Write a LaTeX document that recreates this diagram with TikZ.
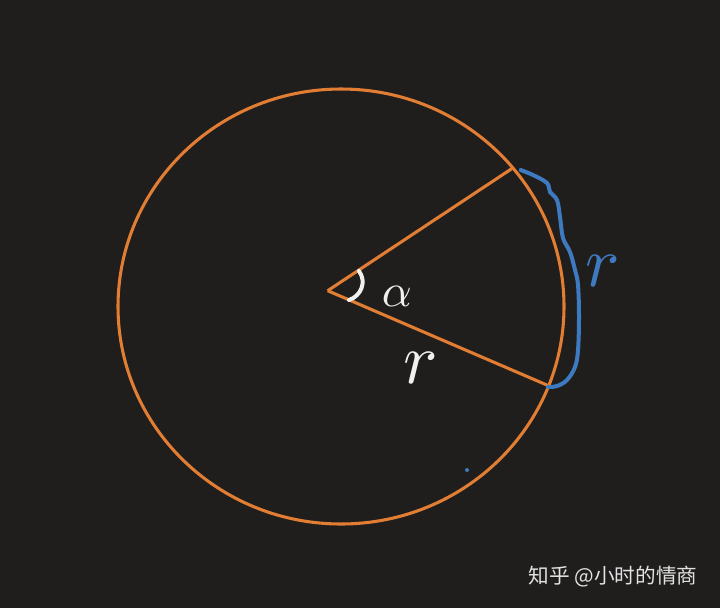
\documentclass[tikz,border=0pt]{standalone}
\usepackage{graphicx}
\usepackage{fontspec}
\newfontfamily\cjk{Noto Sans CJK SC}
\definecolor{bgdark}{RGB}{31,30,29}
\definecolor{arcorange}{RGB}{226,125,52}
\definecolor{penblue}{RGB}{62,122,192}
\definecolor{penwhite}{RGB}{240,240,240}
\definecolor{markgray}{RGB}{226,226,226}
\begin{document}
\begin{tikzpicture}[x=0.75pt,y=0.75pt,yscale=-1,xscale=1,
    orangeline/.style={draw=arcorange, line width=2.3pt},
    bluepen/.style={draw=penblue, line width=3pt, line cap=round, line join=round},
    whitepen/.style={draw=penwhite, line width=3pt, line cap=round, line join=round}]
            %Background
            \fill [bgdark] (0,0) rectangle (720,608);
            \useasboundingbox (0,0) rectangle (720,608);

            %Points
            \coordinate (O) at (327.7,290.7);
            \coordinate (A) at (512,168.5);
            \coordinate (B) at (548,385.5);

            %Shape: Ellipse
            \draw [orangeline] (341,306.5) ellipse [x radius=223, y radius=217.5];
            %Straight Lines
            \draw [orangeline] (O) -- (A);
            \draw [orangeline] (O) -- (B);

            %Angle mark
            \draw [whitepen] (359,271) .. controls (367,282) and (361,296) .. (349,300);

            %Brace
            \draw [bluepen] plot [smooth, tension=0.6] coordinates {(520.7,170) (533,175) (547,183) (550,192) (557,200) (560,217) (563,238) (570,252) (575,270) (578,285) (579,317) (578,350) (575,367) (567,380) (557,386) (548,387)};

            %Dot
            \fill [penblue] (467,470) circle [radius=2];

            % Text Node
            \node [text=penwhite] (alpha) at (397,296) {\scalebox{3.5}{$\alpha$}};
            % Text Node
            \node [text=penwhite] (rin) at (421,368) {\scalebox{5.4}{$r$}};
            % Text Node
            \node [text=penblue] (rarc) at (603,271) {\scalebox{5.4}{$r$}};
            % Text Node
            \node [text=markgray, font=\cjk\fontsize{15.5pt}{15.5pt}\selectfont] (mark) at (613,577) {知乎 @小时的情商};

        \end{tikzpicture}
\end{document}
